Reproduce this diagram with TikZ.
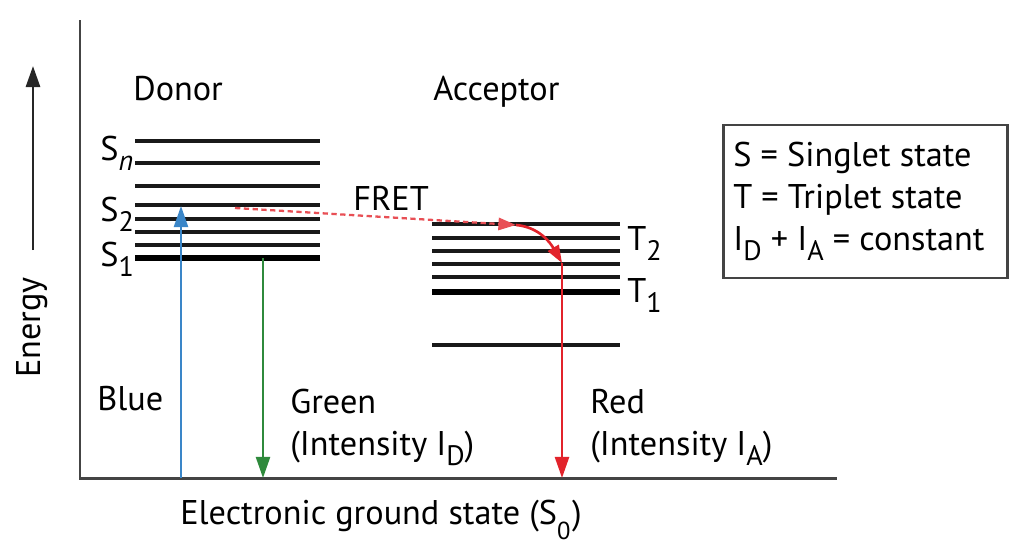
\documentclass[tikz,border=0pt]{standalone}
\usepackage{fontspec}
\setmainfont{PT Sans}
\usetikzlibrary{arrows.meta}
\definecolor{fretblue}{HTML}{3A86C8}
\definecolor{fretgreen}{HTML}{2F8A3C}
\definecolor{fretred}{HTML}{E2232B}
\definecolor{axisgray}{HTML}{444444}
\newcommand\lowsub[1]{\raisebox{-0.6ex}{\fontsize{16}{16}\selectfont #1}}
\tikzset{
  label text/.style={font=\fontsize{19.5}{23}\selectfont,inner sep=0pt,anchor=base west},
  level/.style={draw=black!90,line width=1.9pt},
  low level/.style={draw=black,line width=3.3pt},
  axis/.style={draw=axisgray,line width=1.7pt},
  emission/.style={line width=1.3pt,-{Triangle[length=12pt,width=8pt]}},
  transfer/.style={draw=fretred!80,dash pattern=on 3pt off 2pt,line width=1.3pt,
    -{Triangle[length=10pt,width=7pt]}}
}
\begin{document}
\begin{tikzpicture}[x=0.02cm,y=-0.02cm]
  \useasboundingbox (0,0) rectangle (1010,548);
  \draw[axis] (80,20) -- (80,478) -- (837,478);
  \coordinate (etail) at (33,250);
  \coordinate (ehead) at (33,66);
  \draw[line width=1.6pt,black!85,-{Triangle[length=12pt,width=8pt]}] (etail) -- (ehead);
  \node[label text,rotate=90] (energy) at (40,378) {Energy};
  \node[label text] (donor) at (133,100) {Donor};
  \node[label text] (acceptor) at (433,100) {Acceptor};
  \foreach \y in {141,163,186,205,219,232,245} \draw[level] (135,\y) -- (320,\y);
  \draw[low level] (135,258) -- (320,258);
  \foreach \y in {224,238,251,264,277,345} \draw[level] (432,\y) -- (620,\y);
  \draw[low level] (432,292) -- (620,292);
  \node[label text] (sn) at (100,160) {S\lowsub{\itshape n}};
  \node[label text] (s2) at (100,221) {S\lowsub{2}};
  \node[label text] (s1) at (100,266) {S\lowsub{1}};
  \node[label text] (t2) at (627,250) {T\lowsub{2}};
  \node[label text] (t1) at (627,302) {T\lowsub{1}};
  \coordinate (blue0) at (181,478);
  \coordinate (blue1) at (181,206);
  \coordinate (green0) at (263,258);
  \coordinate (green1) at (263,478);
  \coordinate (red0) at (562,263);
  \coordinate (red1) at (562,478);
  \coordinate (fret0) at (235,208);
  \coordinate (fret1) at (516,225);
  \draw[emission,fretblue] (blue0) -- (blue1);
  \draw[emission,fretgreen] (green0) -- (green1);
  \draw[emission,fretred] (red0) -- (red1);
  \draw[transfer] (fret0) -- (fret1);
  \draw[line width=1.5pt,fretred,-{Triangle[length=10pt,width=7pt]}]
    (fret1) to[out=-5,in=120] (red0);
  \node[label text] (fret) at (353,210) {FRET};
  \node[label text] (blue) at (97,410) {Blue};
  \node[label text] (green) at (290,413) {Green};
  \node[label text] (intd) at (290,455) {(Intensity I\lowsub{D})};
  \node[label text] (red) at (590,413) {Red};
  \node[label text] (inta) at (590,455) {(Intensity I\lowsub{A})};
  \node[label text] (ground) at (180,524)
    {Electronic ground state (S\rlap{\raisebox{-3mm}[0pt][0pt]{\fontsize{14}{14}\selectfont 0}}\ \,)};
  \draw[axis] (723,125) rectangle (1007,278);
  \node[label text] (keys) at (733,166) {S = Singlet state};
  \node[label text] (keyt) at (733,208) {T = Triplet state};
  \node[label text] (keyi) at (733,250) {I\lowsub{D} + I\lowsub{A} = constant};
\end{tikzpicture}
\end{document}
